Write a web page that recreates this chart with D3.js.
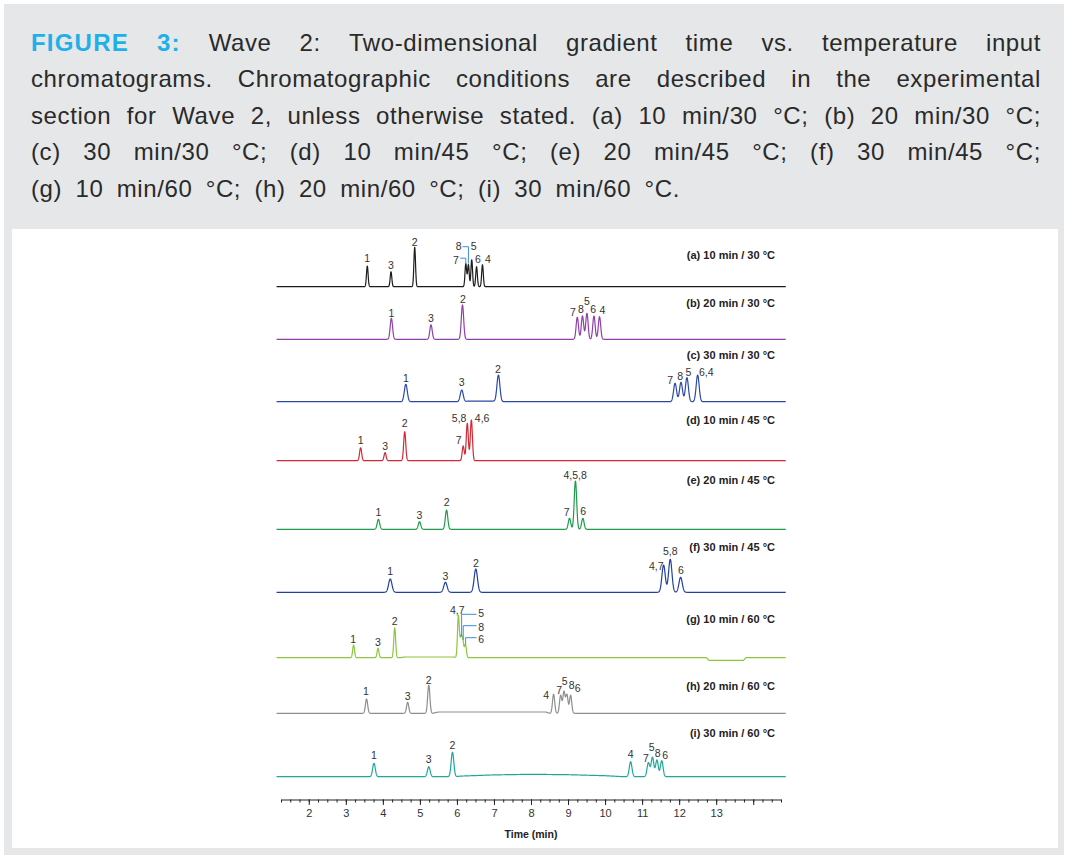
<!DOCTYPE html>
<html>
<head>
<meta charset="utf-8">
<script src="https://cdn.jsdelivr.net/npm/d3@7"></script>
<style>
  body { margin: 0; background: #fff; }
  svg { display: block; font-family: "Liberation Sans", Arial, sans-serif; }
</style>
</head>
<body>
<svg width="1068" height="858"></svg>
<script>
// ---- data (time in min, signal in arbitrary units) ----
var timeDomain = [1.25, 14.75];
var traceSpan = [1.13, 14.88];
var majorTicks = [2, 3, 4, 5, 6, 7, 8, 9, 10, 11, 12, 13, 14];
var tickLabels = ["2", "3", "4", "5", "6", "7", "8", "9", "10", "11", "12", "13", ""];

var runIds = ["a", "b", "c", "d", "e", "f", "g", "h", "i"];
var runLabels = ["(a) 10 min / 30 °C", "(b) 20 min / 30 °C", "(c) 30 min / 30 °C",
                 "(d) 10 min / 45 °C", "(e) 20 min / 45 °C", "(f) 30 min / 45 °C",
                 "(g) 10 min / 60 °C", "(h) 20 min / 60 °C", "(i) 30 min / 60 °C"];
var runColors = ["#1c1c1c", "#9040a8", "#2b49a5", "#d32a36", "#1f9b4c",
                 "#22409d", "#8dc63f", "#8e8e8e", "#1fa89a"];
// peak sigma (min) per run
var peakWidth = [0.022, 0.032, 0.04, 0.028, 0.033, 0.045, 0.025, 0.03, 0.036];

// peaks: [retention time, height]
var peaksA = [[3.58, 20.7], [4.22, 15], [4.86, 39.4], [6.24, 23], [6.31, 22], [6.40, 27], [6.53, 20], [6.69, 22]];
var peaksB = [[4.23, 21], [5.30, 14.6], [6.15, 34.3], [9.25, 22], [9.39, 23.3], [9.51, 26], [9.70, 23.3], [9.85, 22.6]];
var peaksC = [[4.62, 17.4], [6.13, 11.7], [7.12, 26.7], [11.89, 18.4], [12.05, 19.4], [12.21, 24], [12.50, 26.7]];
var peaksD = [[3.40, 13], [4.06, 8], [4.59, 29], [6.17, 14.7], [6.28, 37.4], [6.39, 40.7]];
var peaksE = [[3.88, 10], [4.99, 7.6], [5.72, 19.3], [9.04, 11], [9.20, 48.3], [9.40, 11]];
var peaksF = [[4.20, 13.3], [5.69, 10], [6.51, 23.3], [11.58, 27.3], [11.76, 33], [12.04, 15]];
var peaksG = [[3.21, 12.7], [3.87, 9.4], [4.32, 30], [6.04, 42], [6.11, 20], [6.16, 16], [6.23, 13.4]];
var peaksH = [[3.56, 14.3], [4.67, 11], [5.24, 28.3], [8.61, 19], [8.80, 18], [8.89, 21.5], [8.97, 18.5], [9.07, 18]];
var peaksI = [[3.76, 13.4], [5.24, 10], [5.88, 24.4], [10.69, 15], [11.17, 14], [11.28, 19.4], [11.40, 16.7], [11.53, 16]];

// baseline drift: [time, offset]
var driftFlat = [[1.1, 0], [14.9, 0]];
var driftC = [[1.1, 0], [6.2, 0], [6.3, 0.6], [7.0, 0.6], [7.1, 0], [14.9, 0]];
var driftG = [[1.1, 0], [4.45, 0], [4.6, 0.7], [5.9, 0.7], [6.0, 0], [12.74, 0], [12.8, -2.6], [13.74, -2.6], [13.8, 0], [14.9, 0]];
var driftH = [[1.1, 0], [5.35, 0], [5.5, 1.3], [8.4, 1.3], [8.5, 0], [14.9, 0]];
var driftI = [[1.1, 0], [5.95, 0], [6.1, 0.6], [7.0, 1.8], [8.0, 2.4], [9.0, 2.0], [10.0, 1.0], [10.5, 0], [14.9, 0]];

// peak labels: [text, time, signal, anchor]
var labelsA = [["1", 3.58, 28.4], ["3", 4.22, 21.7], ["2", 4.86, 44.4], ["8", 6.05, 40], ["5", 6.45, 40.5],
               ["7", 5.97, 26.7], ["6", 6.57, 27.7], ["4", 6.84, 27.7]];
var labelsB = [["1", 4.23, 26.3], ["3", 5.30, 21.3], ["2", 6.16, 40.3], ["7", 9.13, 26.6], ["8", 9.35, 30],
               ["5", 9.51, 37.6], ["6", 9.68, 30], ["4", 9.93, 29.3]];
var labelsC = [["1", 4.62, 23.4], ["3", 6.13, 19], ["2", 7.11, 32.4], ["7", 11.76, 21], ["8", 12.03, 25],
               ["5", 12.25, 29.4], ["6,4", 12.73, 29.4]];
var labelsD = [["1", 3.40, 20.7], ["3", 4.06, 14.7], ["2", 4.59, 37.4], ["7", 6.05, 20.7], ["5,8", 6.06, 42.4],
               ["4,6", 6.68, 42.4]];
var labelsE = [["1", 3.88, 17], ["3", 4.99, 14.3], ["2", 5.72, 27], ["7", 8.96, 17], ["4,5,8", 9.19, 54.3],
               ["6", 9.41, 17.6]];
var labelsF = [["1", 4.20, 21.3], ["3", 5.69, 16.3], ["2", 6.51, 29], ["4,7", 11.38, 25.6], ["5,8", 11.76, 40.6],
               ["6", 12.05, 22.3]];
var labelsG = [["1", 3.20, 18.4], ["3", 3.87, 15], ["2", 4.32, 36], ["4,7", 6.01, 47.7],
               ["5", 6.575, 44.4, "start"], ["8", 6.575, 30, "start"], ["6", 6.575, 18.7, "start"]];
var labelsH = [["1", 3.54, 21.6], ["3", 4.67, 17.3], ["2", 5.24, 33.3], ["4", 8.41, 18.3], ["7", 8.76, 22.6],
               ["5", 8.91, 31.6], ["8", 9.10, 27.6], ["6", 9.26, 25]];
var labelsI = [["1", 3.76, 21], ["3", 5.24, 17.7], ["2", 5.88, 31.7], ["4", 10.69, 22.7], ["7", 11.10, 18.4],
               ["5", 11.26, 29.4], ["8", 11.42, 23.4], ["6", 11.62, 21]];

// bracket leader lines: list of [time, signal] polylines
var bracketsA = [[[6.15, 40], [6.31, 40], [6.31, 23]], [[6.09, 28.5], [6.24, 28.5], [6.24, 23.5]]];
var bracketsG = [[[6.53, 43.4], [6.127, 43.4], [6.127, 21]], [[6.53, 32], [6.17, 32], [6.17, 17.7]],
                 [[6.53, 20], [6.235, 20], [6.235, 13.7]]];

var titleLines = [
  "FIGURE 3: Wave 2: Two-dimensional gradient time vs. temperature input",
  "chromatograms. Chromatographic conditions are described in the experimental",
  "section for Wave 2, unless otherwise stated. (a) 10 min/30 °C; (b) 20 min/30 °C;",
  "(c) 30 min/30 °C; (d) 10 min/45 °C; (e) 20 min/45 °C; (f) 30 min/45 °C;",
  "(g) 10 min/60 °C; (h) 20 min/60 °C; (i) 30 min/60 °C."
];

// ---- layout ----
var baselines = [286.7, 339.3, 401.7, 460.7, 529.3, 592.3, 657.7, 713.3, 776.7];
var labelRows = [255, 302.7, 355, 420, 480, 547, 619, 685.7, 732.7];
var axisY = 799.5;

var runs = runIds.map(function(id, i) {
  return {
    id: id, label: runLabels[i], color: runColors[i], sigma: peakWidth[i], base: baselines[i], labelY: labelRows[i],
    peaks: [peaksA, peaksB, peaksC, peaksD, peaksE, peaksF, peaksG, peaksH, peaksI][i],
    labels: [labelsA, labelsB, labelsC, labelsD, labelsE, labelsF, labelsG, labelsH, labelsI][i],
    drift: [driftFlat, driftFlat, driftC, driftFlat, driftFlat, driftFlat, driftG, driftH, driftI][i],
    brackets: id == "a" ? bracketsA : id == "g" ? bracketsG : []
  };
});

var svg = d3.select("svg");

// backgrounds
svg.append("rect").attr("x", 4).attr("y", 4).attr("width", 1060).attr("height", 851).attr("fill", "#e6e7e9");
svg.append("rect").attr("x", 12).attr("y", 229).attr("width", 1046).attr("height", 619).attr("fill", "#fff");

// title, justified (last line set with the same loose spacing, ending near x=680)
var title = svg.append("g").attr("font-size", 24).attr("letter-spacing", 0.6).attr("fill", "#2a2a2a");
var tLeft = 31, tRight = 1041, tTop = 50.5, tStep = 36.5, lastRight = 680;
titleLines.forEach(function(line, li) {
  var words = line.split(" ");
  var nodes = words.map(function(w, wi) {
    var t = title.append("text").attr("y", tTop + li * tStep).text(w);
    if (li == 0 && wi < 2) t.attr("fill", "#1eb0e8").attr("font-weight", "bold").attr("letter-spacing", 1.2);
    return t;
  });
  var widths = nodes.map(function(n) { return n.node().getComputedTextLength(); });
  var right = li == titleLines.length - 1 ? lastRight : tRight;
  var gap = (right - tLeft - d3.sum(widths)) / (words.length - 1);
  var cx = tLeft;
  nodes.forEach(function(n, k) { n.attr("x", cx); cx += widths[k] + gap; });
});

// scales
var x = d3.scaleLinear().domain(timeDomain).range([281, 781]);

var times = d3.range(traceSpan[0], traceSpan[1], 0.004);

runs.forEach(function(r) {
  var y = d3.scaleLinear().domain([0, 50]).range([r.base, r.base - 50]);
  var drift = d3.scaleLinear().domain(r.drift.map(function(d) { return d[0]; }))
                              .range(r.drift.map(function(d) { return d[1]; })).clamp(true);
  var signal = function(t) {
    var s = drift(t);
    r.peaks.forEach(function(p) {
      var z = (t - p[0]) / r.sigma;
      s += p[1] * Math.exp(-0.5 * z * z);
    });
    return s;
  };
  var line = d3.line().x(function(t) { return x(t); }).y(function(t) { return y(signal(t)); });

  var g = svg.append("g").attr("class", "run run-" + r.id);
  g.append("path").datum(times).attr("d", line)
    .attr("fill", "none").attr("stroke", r.color).attr("stroke-width", 1.2).attr("stroke-linejoin", "round");

  var bl = d3.line().x(function(d) { return x(d[0]); }).y(function(d) { return y(d[1]); });
  g.selectAll(".bracket").data(r.brackets).enter().append("path")
    .attr("class", "bracket").attr("d", bl)
    .attr("fill", "none").attr("stroke", "#3a8fd8").attr("stroke-width", 1);

  g.selectAll(".plabel").data(r.labels).enter().append("text")
    .attr("class", "plabel")
    .attr("x", function(d) { return x(d[1]); })
    .attr("y", function(d) { return y(d[2]); })
    .attr("dy", "0.36em")
    .attr("text-anchor", function(d) { return d[3] || "middle"; })
    .attr("font-size", 10.5).attr("fill", "#333")
    .text(function(d) { return d[0]; });

  g.append("text")
    .attr("x", 775).attr("y", r.labelY)
    .attr("dy", "0.36em").attr("text-anchor", "end")
    .attr("font-size", 11).attr("font-weight", "bold").attr("fill", "#222")
    .text(r.label);
});

// axis
var axis = svg.append("g").attr("transform", "translate(0," + axisY + ")");
axis.append("g")
  .call(d3.axisBottom(x).tickValues(d3.range(1.25, 14.76, 0.25)).tickSize(3).tickSizeOuter(0).tickFormat(""))
  .call(function(s) { s.selectAll("line").attr("stroke", "#222"); s.select(".domain").attr("stroke", "#222"); });
axis.append("g")
  .call(d3.axisBottom(x).tickValues(majorTicks).tickSize(5.5).tickSizeOuter(0)
        .tickFormat(function(d, i) { return tickLabels[i]; }))
  .call(function(s) {
    s.select(".domain").remove();
    s.selectAll("line").attr("stroke", "#222");
    s.selectAll("text").attr("font-size", 11).attr("fill", "#333")
      .attr("font-family", "Liberation Sans, Arial, sans-serif").attr("y", 10);
  });
axis.append("text")
  .attr("x", 531).attr("y", 38).attr("text-anchor", "middle")
  .attr("font-size", 10.5).attr("font-weight", "bold").attr("fill", "#222")
  .text("Time (min)");
</script>
</body>
</html>
